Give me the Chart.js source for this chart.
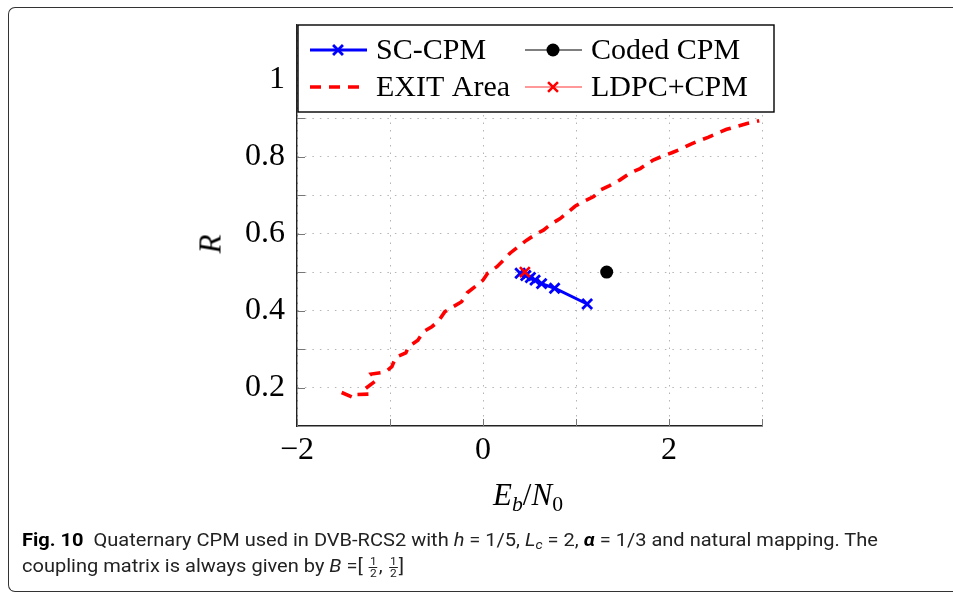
<!DOCTYPE html>
<html>
<head>
<meta charset="utf-8">
<title>SC-CPM EXIT area</title>
<script src="https://cdn.jsdelivr.net/npm/chart.js@4.4.1/dist/chart.umd.min.js"></script>
<style>
  html, body { margin: 0; padding: 0; background: #fff; overflow: hidden; }
  body { width: 953px; height: 593px; position: relative; overflow: hidden; }
  #frame {
    position: absolute; left: 8px; top: 7px; width: 2000px; height: 585px;
    border-top: 1.5px solid #333; border-left: 1.5px solid #333; border-bottom: 1.5px solid #333;
    border-radius: 7px 0 0 7px; box-sizing: border-box;
  }
  #chart { position: absolute; left: 0; top: 0; }
  .axis-title {
    position: absolute; font-family: "Liberation Serif", "DejaVu Serif", serif;
    font-size: 31px; line-height: 1; color: #000; white-space: nowrap;
  }
  #ytitle { left: 210px; top: 244px; transform: translate(-50%, -50%) rotate(-90deg); font-style: italic; }
  #xtitle { left: 528px; top: 494px; transform: translate(-50%, -50%); }
  #xtitle sub { font-size: 0.7em; vertical-align: -0.28em; line-height: 0; }
  .cap {
    position: absolute; left: 22px; white-space: nowrap; transform-origin: 0 50%;
    font-family: "Liberation Sans Narrow", "Roboto", "Noto Sans", sans-serif;
    font-size: 18.5px; color: #222; line-height: 22px;
  }
  #cap1 { top: 529px; }
  #cap2 { top: 555px; }
  .cap b { color: #000; }
  .cap sub { font-size: 0.7em; vertical-align: -0.25em; line-height: 0; }
  .frac { display: inline-block; vertical-align: middle; text-align: center; font-size: 11px; line-height: 11px; margin: 0 1px; }
  .frac .num { display: block; border-bottom: 1px solid #222; padding: 0 1px; }
  .frac .den { display: block; }
</style>
</head>
<body>
<div id="frame"></div>
<canvas id="chart" width="953" height="593"></canvas>
<div class="axis-title" id="ytitle">R</div>
<div class="axis-title" id="xtitle"><i>E</i><sub><i>b</i></sub>/<i>N</i><sub>0</sub></div>
<div class="cap" id="cap1"><b>Fig. 10</b>&nbsp; Quaternary CPM used in DVB-RCS2 with <i>h</i> = 1/5, <i>L<sub>c</sub></i> = 2, <b><i>&alpha;</i></b> = 1/3 and natural mapping. The</div>
<div class="cap" id="cap2">coupling matrix is always given by <i>B</i> =[ <span class="frac"><span class="num">1</span><span class="den">2</span></span>, <span class="frac"><span class="num">1</span><span class="den">2</span></span>]</div>

<script>
// --- Data ---
var legendLabels = ["SC-CPM", "Coded CPM", "EXIT Area", "LDPC+CPM"];

// EXIT area curve (Eb/N0 in dB, rate R)
var exitEbN0 = [-1.52, -1.38, -1.35, -1.22, -1.26, -1.15, -1.20, -1.05, -0.98, -0.94,
  -0.83, -0.80, -0.70, -0.64, -0.55, -0.48, -0.41, -0.32, -0.23, -0.17,
  -0.08, 0.00, 0.05, 0.15, 0.22, 0.29, 0.40, 0.47, 0.58, 0.65,
  0.74, 0.83, 0.92, 0.99, 1.08, 1.19, 1.26, 1.35, 1.47, 1.58,
  1.69, 1.83, 1.92, 2.03, 2.12, 2.23, 2.32, 2.42, 2.51, 2.62,
  2.71, 2.84, 2.97];
var exitRate = [0.187, 0.172, 0.182, 0.183, 0.198, 0.218, 0.235, 0.240, 0.254, 0.278,
  0.290, 0.306, 0.323, 0.345, 0.358, 0.372, 0.397, 0.410, 0.423, 0.446,
  0.463, 0.479, 0.497, 0.514, 0.531, 0.549, 0.570, 0.583, 0.600, 0.609,
  0.626, 0.639, 0.657, 0.671, 0.683, 0.696, 0.713, 0.723, 0.739, 0.757,
  0.769, 0.791, 0.800, 0.810, 0.819, 0.832, 0.841, 0.850, 0.860, 0.871,
  0.877, 0.886, 0.893];

// SC-CPM thresholds
var scEbN0 = [0.40, 0.46, 0.51, 0.56, 0.63, 0.77, 1.12];
var scRate = [0.497, 0.491, 0.486, 0.479, 0.470, 0.458, 0.417];

// single points
var codedEbN0 = [1.33];
var codedRate = [0.50];
var ldpcEbN0 = [0.45];
var ldpcRate = [0.50];

// axes
var xTicks = [-2, -1, 0, 1, 2, 3];
var xTickLabels = ["\u22122", "", "0", "", "2", ""];
var yTicks = [0.2, 0.3, 0.4, 0.5, 0.6, 0.7, 0.8, 0.9, 1.0];
var yTickLabels = ["0.2", "", "0.4", "", "0.6", "", "0.8", "", "1"];

function toPoints(xs, ys) {
  return xs.map(function (x, i) { return { x: x, y: ys[i] }; });
}

var SERIF = "'Liberation Serif', 'DejaVu Serif', serif";

// inward tick marks, pgfplots style
var innerTicks = {
  id: "innerTicks",
  beforeDatasetsDraw: function (chart) {
    var ctx = chart.ctx, area = chart.chartArea;
    var xs = chart.scales.x, ys = chart.scales.y;
    ctx.save();
    ctx.strokeStyle = "#777";
    ctx.lineWidth = 1;
    ctx.beginPath();
    xTicks.forEach(function (v) {
      var px = Math.round(xs.getPixelForValue(v)) + 0.5;
      ctx.moveTo(px, area.bottom);
      ctx.lineTo(px, area.bottom - 7);
    });
    yTicks.forEach(function (v) {
      var py = Math.round(ys.getPixelForValue(v)) + 0.5;
      ctx.moveTo(area.left, py);
      ctx.lineTo(area.left + 8, py);
    });
    ctx.stroke();
    ctx.restore();
  }
};

function drawMarker(ctx, style, x, y, r, color, width) {
  ctx.save();
  ctx.strokeStyle = color;
  ctx.fillStyle = color;
  ctx.lineWidth = width;
  if (style === "circle") {
    ctx.beginPath();
    ctx.arc(x, y, r, 0, Math.PI * 2);
    ctx.fill();
  } else if (style === "crossRot") {
    var d = r * 0.7071;
    ctx.beginPath();
    ctx.moveTo(x - d, y - d); ctx.lineTo(x + d, y + d);
    ctx.moveTo(x - d, y + d); ctx.lineTo(x + d, y - d);
    ctx.stroke();
  }
  ctx.restore();
}

// boxed two-column legend in the top of the axes
var boxLegend = {
  id: "boxLegend",
  afterDraw: function (chart) {
    var ctx = chart.ctx, area = chart.chartArea;
    var left = area.left + 1, top = area.top, w = 476, h = 87;
    ctx.save();
    ctx.fillStyle = "#fff";
    ctx.fillRect(left, top, w, h);
    ctx.strokeStyle = "#000";
    ctx.lineWidth = 1.4;
    ctx.strokeRect(left, top, w, h);

    var slots = [
      { x: left + 12, y: top + 25 },
      { x: left + 227, y: top + 25 },
      { x: left + 12, y: top + 62 },
      { x: left + 227, y: top + 62 }
    ];
    var byLabel = {};
    chart.data.datasets.forEach(function (ds) { byLabel[ds.label] = ds; });

    legendLabels.forEach(function (label, i) {
      var ds = byLabel[label], s = slots[i];
      ctx.save();
      ctx.strokeStyle = ds.legendLineColor || ds.borderColor;
      ctx.lineWidth = ds.legendLineWidth || ds.borderWidth;
      ctx.setLineDash(ds.borderDash || []);
      ctx.beginPath();
      ctx.moveTo(s.x, s.y);
      ctx.lineTo(s.x + 57, s.y);
      ctx.stroke();
      ctx.restore();
      if (ds.pointRadius > 0) {
        drawMarker(ctx, ds.pointStyle, s.x + 28, s.y, ds.pointRadius,
          ds.pointBorderColor || ds.borderColor, ds.pointBorderWidth || 2);
      }
      ctx.fillStyle = "#000";
      ctx.font = "30px " + SERIF;
      ctx.textBaseline = "middle";
      ctx.textAlign = "left";
      ctx.fillText(label, s.x + 66, s.y + 1);
    });
    ctx.restore();
  }
};

new Chart(document.getElementById("chart"), {
  type: "scatter",
  data: {
    datasets: [
      {
        label: "LDPC+CPM",
        data: toPoints(ldpcEbN0, ldpcRate),
        showLine: false,
        borderColor: "#ff0000",
        backgroundColor: "#ff0000",
        pointStyle: "crossRot",
        pointRadius: 7,
        pointBorderWidth: 2.6,
        pointBorderColor: "#ff0000",
        borderWidth: 2.6,
        legendLineWidth: 1.2,
        legendLineColor: "#ff3333"
      },
      {
        label: "Coded CPM",
        data: toPoints(codedEbN0, codedRate),
        showLine: false,
        borderColor: "#000",
        backgroundColor: "#000",
        pointStyle: "circle",
        pointRadius: 6.5,
        pointBorderWidth: 0,
        borderWidth: 1,
        legendLineWidth: 1.1
      },
      {
        label: "SC-CPM",
        data: toPoints(scEbN0, scRate),
        showLine: true,
        borderColor: "#0000ff",
        backgroundColor: "#0000ff",
        borderWidth: 3,
        pointStyle: "crossRot",
        pointRadius: 7,
        pointBorderWidth: 2.8,
        pointBorderColor: "#0000ff"
      },
      {
        label: "EXIT Area",
        data: toPoints(exitEbN0, exitRate),
        showLine: true,
        borderColor: "#ff0000",
        borderWidth: 3.6,
        borderDash: [11, 8],
        pointRadius: 0,
        tension: 0
      }
    ]
  },
  options: {
    responsive: false,
    animation: false,
    layout: { padding: { left: 0, top: 25, right: 191, bottom: 0 } },
    plugins: {
      legend: { display: false },
      tooltip: { enabled: false }
    },
    scales: {
      x: {
        type: "linear",
        min: -2,
        max: 3,
        afterFit: function (scale) { scale.height = 167; },
        afterBuildTicks: function (scale) {
          scale.ticks = xTicks.map(function (v) { return { value: v }; });
        },
        ticks: {
          padding: 5,
          color: "#000",
          font: { family: SERIF, size: 32 },
          maxRotation: 0,
          autoSkip: false,
          callback: function (value) { return xTickLabels[xTicks.indexOf(value)]; }
        },
        grid: { color: "#b5b5b5", lineWidth: 1, drawTicks: false },
        border: { color: "#222", width: 1.4, dash: [1.5, 6] }
      },
      y: {
        type: "linear",
        min: 0.1,
        max: 1.142,
        afterFit: function (scale) { scale.width = 297; },
        afterBuildTicks: function (scale) {
          scale.ticks = yTicks.map(function (v) { return { value: v }; });
        },
        ticks: {
          padding: 12,
          color: "#000",
          font: { family: SERIF, size: 32, lineHeight: 0.4 },
          autoSkip: false,
          callback: function (value) { return yTickLabels[yTicks.indexOf(value)]; }
        },
        grid: { color: "#b5b5b5", lineWidth: 1, drawTicks: false },
        border: { color: "#222", width: 1.4, dash: [1.5, 6] }
      }
    }
  },
  plugins: [innerTicks, boxLegend]
});

// squeeze the caption to the width of the printed one (condensed face)
(function fitCaption() {
  var c1 = document.getElementById("cap1");
  var c2 = document.getElementById("cap2");
  var k = 856 / c1.getBoundingClientRect().width;
  c1.style.transform = "scaleX(" + k + ")";
  c2.style.transform = "scaleX(" + k + ")";
})();
</script>
</body>
</html>
